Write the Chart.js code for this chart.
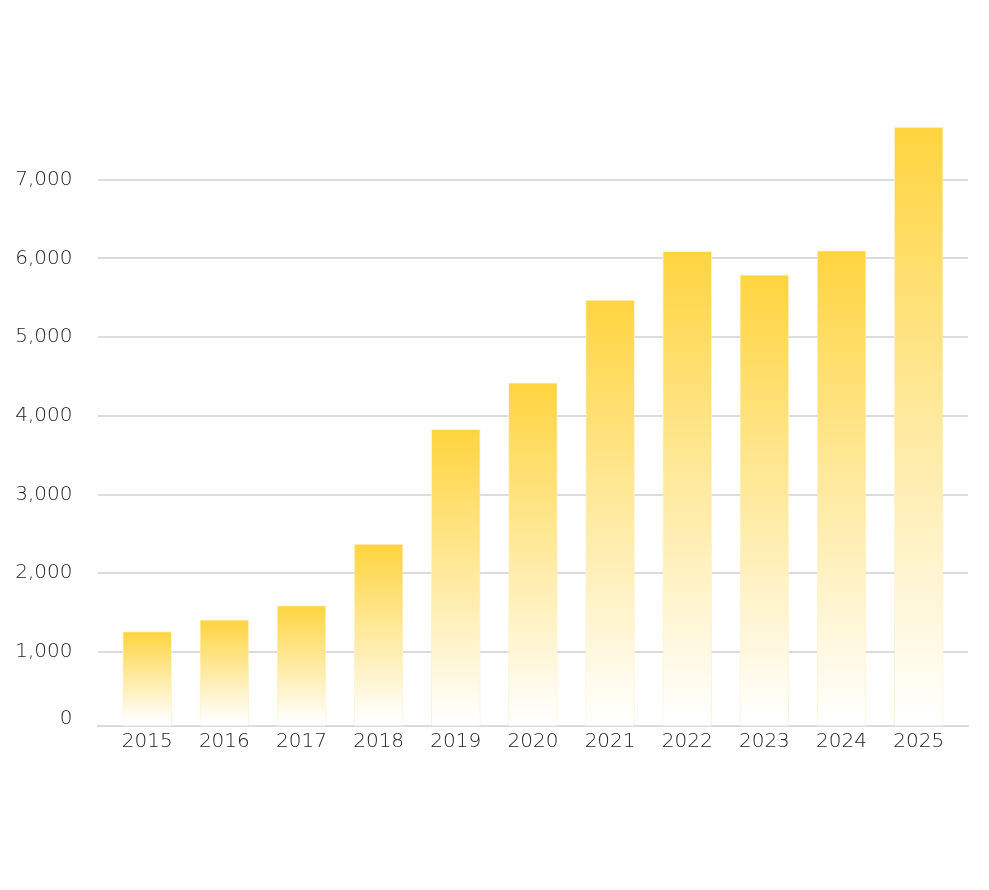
<!DOCTYPE html>
<html lang="ja">

<head>
    <meta charset="UTF-8">
    <title>bar chart</title>
    <style>
        html, body { margin: 0; padding: 0; background: #ffffff; }
        #wrap { width: 989px; height: 890px; }
    </style>
</head>

<body>
    <div id="wrap">
        <canvas id="barchart"></canvas>
    </div>
    <script src="https://cdn.jsdelivr.net/npm/chart.js"></script>
    <script>
        // chart data
        const years = ['2015', '2016', '2017', '2018', '2019', '2020', '2021', '2022', '2023', '2024', '2025']
        const values = [1260, 1410, 1590, 2370, 3830, 4420, 5470, 6090, 5790, 6100, 7670]
        const yTicks = [1000, 2000, 3000, 4000, 5000, 6000, 7000]

        // the "0" label sits a little above the axis line in the picture
        const zeroLabelAt = 145

        const gridColor = '#dcdcdc'
        const textColor = '#222222'
        const fontSpec = { family: "'DejaVu Sans', sans-serif", size: 20, weight: 200 }

        const points = years.map((y, i) => ({ x: i, y: values[i] }))

        function barGradient(context) {
            const chart = context.chart
            const area = chart.chartArea
            if (!area || !context.raw) return '#ffd43f'
            const top = chart.scales.y.getPixelForValue(context.raw.y)
            const g = chart.ctx.createLinearGradient(0, top, 0, area.bottom - 4)
            g.addColorStop(0, '#ffd43f')
            g.addColorStop(1, '#ffffff')
            return g
        }

        const ctx = document.getElementById('barchart').getContext('2d')
        new Chart(ctx, {
            type: 'bar',
            data: {
                datasets: [{
                    data: points,
                    backgroundColor: barGradient,
                    borderColor: 'rgba(255, 240, 190, 0.7)',
                    borderWidth: 1,
                    barThickness: 49
                }]
            },
            options: {
                responsive: true,
                maintainAspectRatio: false,
                animation: false,
                layout: {
                    padding: { top: 101, right: 21, bottom: 132.5, left: 0 }
                },
                plugins: {
                    legend: { display: false },
                    tooltip: { enabled: false }
                },
                scales: {
                    x: {
                        type: 'linear',
                        offset: false,
                        min: -0.644,
                        max: 10.639,
                        grid: { display: false, drawTicks: false },
                        border: { display: true, color: gridColor, width: 2 },
                        afterBuildTicks: scale => {
                            scale.ticks = years.map((y, i) => ({ value: i }))
                        },
                        ticks: {
                            color: textColor,
                            font: fontSpec,
                            padding: 4,
                            maxRotation: 0,
                            autoSkip: false,
                            callback: value => years[value]
                        }
                    },
                    y: {
                        min: 66,
                        max: 8000,
                        afterFit: scale => {
                            scale.width = 97.5
                        },
                        afterBuildTicks: scale => {
                            scale.ticks = [{ value: zeroLabelAt }].concat(yTicks.map(v => ({ value: v })))
                        },
                        border: { display: false },
                        grid: {
                            drawTicks: false,
                            lineWidth: 2,
                            color: c => (c.tick && c.tick.value === zeroLabelAt) ? 'rgba(0,0,0,0)' : gridColor
                        },
                        ticks: {
                            color: textColor,
                            font: fontSpec,
                            padding: 25,
                            callback: value => value === zeroLabelAt ? '0' : value.toLocaleString('en-US')
                        }
                    }
                }
            }
        })
    </script>
</body>

</html>
